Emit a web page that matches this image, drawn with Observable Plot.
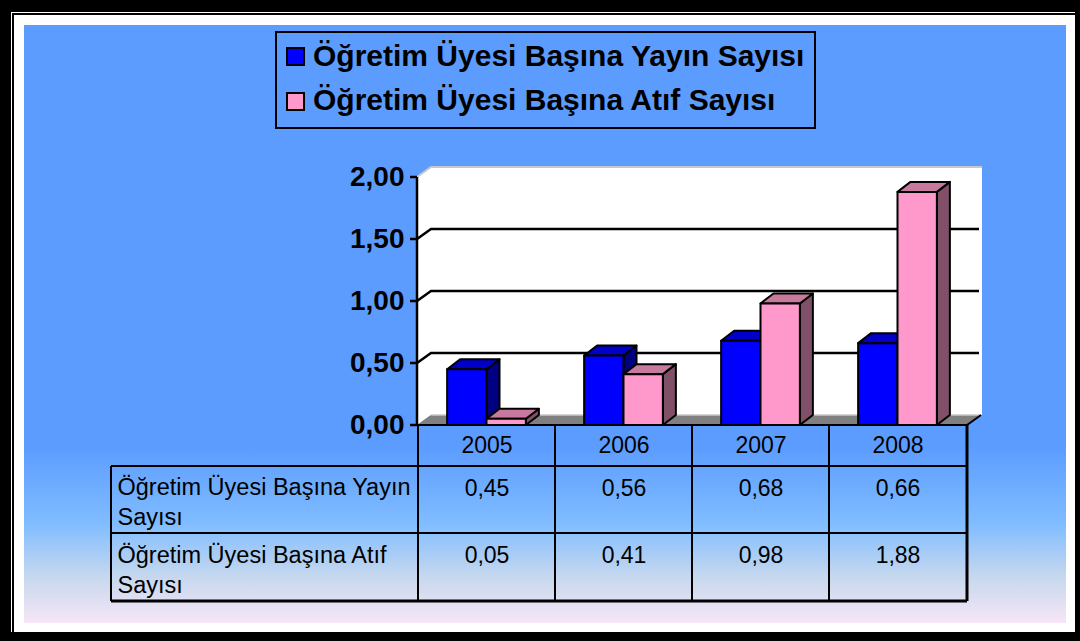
<!DOCTYPE html>
<html>
<head>
<meta charset="utf-8">
<script src="https://cdn.jsdelivr.net/npm/d3@7"></script>
<script src="https://cdn.jsdelivr.net/npm/@observablehq/plot@0.6"></script>
<style>
  html, body { margin: 0; padding: 0; background: #000; }
  #wrap { position: relative; width: 1080px; height: 641px; overflow: hidden; background: #000;
          font-family: "Liberation Sans", Arial, sans-serif; }
  .abs { position: absolute; box-sizing: border-box; }
  #white1 { left: 11px; top: 12px; width: 1064px; height: 620px; background: #fff; }
  #white2 { left: 12px; top: 13px; width: 1063px; height: 619px; background: #fff;
            border-left: 2px solid #000; border-top: 2px solid #000; }
  #panel { left: 24px; top: 25px; width: 1042px; height: 598px;
           background: linear-gradient(to bottom, #5c9cff 0%, #5c9cff 70.5%, #80bcff 83.3%, #c6d8ee 92.3%, #f6e6f6 100%); }
  #legend { left: 275px; top: 31px; width: 541px; height: 98px; border: 2px solid #000; }
  .sw { position: absolute; width: 19px; height: 19px; border: 2px solid #000; box-sizing: border-box; }
  .lt { position: absolute; font-weight: bold; font-size: 30px; line-height: 30px; white-space: nowrap; color: #000; }
  #chart { position: absolute; left: 0; top: 0; }
</style>
</head>
<body>
<div id="wrap">
  <div class="abs" id="white1"></div>
  <div class="abs" id="white2"></div>
  <div class="abs" id="panel"></div>
  <div class="abs" id="legend"></div>
  <div id="chart"></div>
</div>
<script>
// ---- data ----
const years = ["2005", "2006", "2007", "2008"];
const seriesNames = ["Öğretim Üyesi Başına Yayın Sayısı", "Öğretim Üyesi Başına Atıf Sayısı"];
const yayin = [0.45, 0.56, 0.68, 0.66];
const atif = [0.05, 0.41, 0.98, 1.88];
const yTicks = [0, 0.5, 1, 1.5, 2];
const rowLabelLines = [["Öğretim Üyesi Başına Yayın", "Sayısı"], ["Öğretim Üyesi Başına Atıf", "Sayısı"]];

// ---- styles ----
const frontColors = ["#0000ff", "#ff99cc"];
const topColors = ["#0000c8", "#c87a9e"];
const sideColors = ["#000080", "#805068"];
const fmt = v => v.toFixed(2).replace(".", ",");

const seriesValues = [yayin, atif];
const data = years.flatMap((yr, i) => seriesValues.map((vals, s) => ({year: yr, series: s, value: vals[i]})));

// ---- legend (HTML) ----
const legend = document.getElementById("legend");
seriesNames.forEach((name, s) => {
  const sw = document.createElement("div");
  sw.className = "sw";
  sw.style.left = "9px";
  sw.style.top = (14 + s * 45) + "px";
  sw.style.background = frontColors[s];
  legend.appendChild(sw);
  const t = document.createElement("div");
  t.className = "lt";
  t.style.left = "36px";
  t.style.top = (8 + s * 44) + "px";
  t.textContent = name;
  legend.appendChild(t);
});

const DX = 14, DY = -10;     // depth of walls
const BDX = 13, BDY = -10;   // depth of bars

function decorRender(index, scales, values, dims) {
  const L = dims.marginLeft, R = dims.width - dims.marginRight;
  const T = dims.marginTop, B = dims.height - dims.marginBottom;
  const g = d3.create("svg:g");
  g.append("path").attr("d", `M${L},${B}L${L},${T}L${L + DX},${T + DY}L${L + DX},${B + DY}Z`).attr("fill", "#fff");
  g.append("rect").attr("x", L + DX).attr("y", T + DY).attr("width", R - L + 1).attr("height", B - T).attr("fill", "#fff");
  g.append("path").attr("d", `M${L},${T}L${L + DX},${T + DY}L${R + DX + 1},${T + DY}`)
    .attr("fill", "none").attr("stroke", "#c8c8c8").attr("stroke-width", 2);
  g.append("path").attr("d", `M${L},${B}L${L + DX},${B + DY}L${R + DX},${B + DY}L${R},${B}Z`).attr("fill", "#808080");
  g.append("path").attr("d", `M${L + DX},${B + DY}L${R + DX},${B + DY}`).attr("stroke", "#c8c8c8").attr("stroke-width", 1.5);
  g.append("path").attr("d", `M${L},${B}L${R},${B}L${R + DX},${B + DY}`).attr("fill", "none").attr("stroke", "#000").attr("stroke-width", 2);
  for (const i of index) {
    const v = yTicks[i];
    const y = values.y[i];
    if (v === 0 || v === 2) continue;
    g.append("path").attr("d", `M${L},${y}L${L + DX},${y + DY}L${R + DX - 2},${y + DY}`)
      .attr("fill", "none").attr("stroke", "#000").attr("stroke-width", 2.5);
  }
  g.append("path").attr("d", `M${L},${T}L${L},${B}`).attr("stroke", "#000").attr("stroke-width", 2.5);
  for (const i of index) {
    const y = values.y[i];
    g.append("path").attr("d", `M${L - 7},${y}L${L},${y}`).attr("stroke", "#000").attr("stroke-width", 2.5);
  }
  return g.node();
}

function barsRender(index, scales, values, dims) {
  const g = d3.create("svg:g").attr("stroke", "#000").attr("stroke-width", 2).attr("stroke-linejoin", "round");
  const y0 = scales.y(0);
  const bw = scales.x.bandwidth ? scales.x.bandwidth() : (dims.width - dims.marginLeft - dims.marginRight) / years.length;
  for (const i of index) {
    const d = data[i];
    const x0 = scales.x(d.year);
    const inner = d3.scaleBand().domain([0, 1]).range([x0, x0 + bw]).paddingInner(0).paddingOuter(0.74);
    const xl = inner(d.series), xr = xl + inner.bandwidth();
    const yt = scales.y(d.value);
    g.append("path").attr("d", `M${xr},${y0}L${xr},${yt}L${xr + BDX},${yt + BDY}L${xr + BDX},${y0 + BDY}Z`).attr("fill", sideColors[d.series]);
    g.append("path").attr("d", `M${xl},${yt}L${xl + BDX},${yt + BDY}L${xr + BDX},${yt + BDY}L${xr},${yt}Z`).attr("fill", topColors[d.series]);
    g.append("rect").attr("x", xl).attr("y", yt).attr("width", xr - xl).attr("height", y0 - yt).attr("fill", frontColors[d.series]);
  }
  return g.node();
}

function tableRender(index, scales, values, dims) {
  const L = dims.marginLeft, R = dims.width - dims.marginRight;
  const B = dims.height - dims.marginBottom;
  const tableLeft = L - 306;
  const rows = [B + 41, B + 108, B + 176];
  const g = d3.create("svg:g").attr("stroke", "#000").attr("fill", "none");
  rows.forEach((y, k) => {
    g.append("path").attr("d", `M${tableLeft},${y}L${R},${y}`).attr("stroke-width", k === 2 ? 3 : 2);
  });
  g.append("path").attr("d", `M${tableLeft},${rows[0]}L${tableLeft},${rows[2]}`).attr("stroke-width", 2);
  const bounds = years.map(yr => scales.x(yr)).concat([R]);
  bounds.forEach((x, k) => {
    g.append("path").attr("d", `M${x},${B}L${x},${rows[2]}`).attr("stroke-width", k === bounds.length - 1 ? 3 : 2);
  });
  return g.node();
}

const chart = Plot.plot({
  width: 1080,
  height: 641,
  marginLeft: 417,
  marginRight: 113,
  marginTop: 177,
  marginBottom: 216,
  style: {background: "none", fontFamily: "'Liberation Sans', Arial, sans-serif", overflow: "visible"},
  x: {domain: years, padding: 0, axis: null},
  y: {domain: [0, 2], axis: null},
  marks: [
    Plot.ruleY(yTicks, {y: d => d, render: decorRender}),
    Plot.barY(data, {x: "year", y1: 0, y2: "value", render: barsRender}),
    Plot.tickX(years, {x: d => d, render: tableRender}),
    Plot.text(yTicks, {y: d => d, text: d => fmt(d), frameAnchor: "left", textAnchor: "end", dx: -13,
      fontSize: 28, fontWeight: "bold", fill: "#000"}),
    Plot.text(years, {x: d => d, text: d => d, frameAnchor: "bottom", lineAnchor: "bottom", dy: 27, fontSize: 23, fill: "#000"}),
    Plot.text(years, {x: d => d, text: (d, i) => fmt(yayin[i]), frameAnchor: "bottom", lineAnchor: "bottom", dy: 70, fontSize: 23, fill: "#000"}),
    Plot.text(years, {x: d => d, text: (d, i) => fmt(atif[i]), frameAnchor: "bottom", lineAnchor: "bottom", dy: 137, fontSize: 23, fill: "#000"}),
    Plot.text([rowLabelLines[0]], {text: d => d.join("\n"), frameAnchor: "bottom-left", textAnchor: "start", lineAnchor: "bottom",
      dx: -300, dy: 99, lineHeight: 1.26, fontSize: 23.5, fill: "#000"}),
    Plot.text([rowLabelLines[1]], {text: d => d.join("\n"), frameAnchor: "bottom-left", textAnchor: "start", lineAnchor: "bottom",
      dx: -300, dy: 167, lineHeight: 1.26, fontSize: 23.5, fill: "#000"})
  ]
});
document.getElementById("chart").appendChild(chart);
</script>
</body>
</html>
